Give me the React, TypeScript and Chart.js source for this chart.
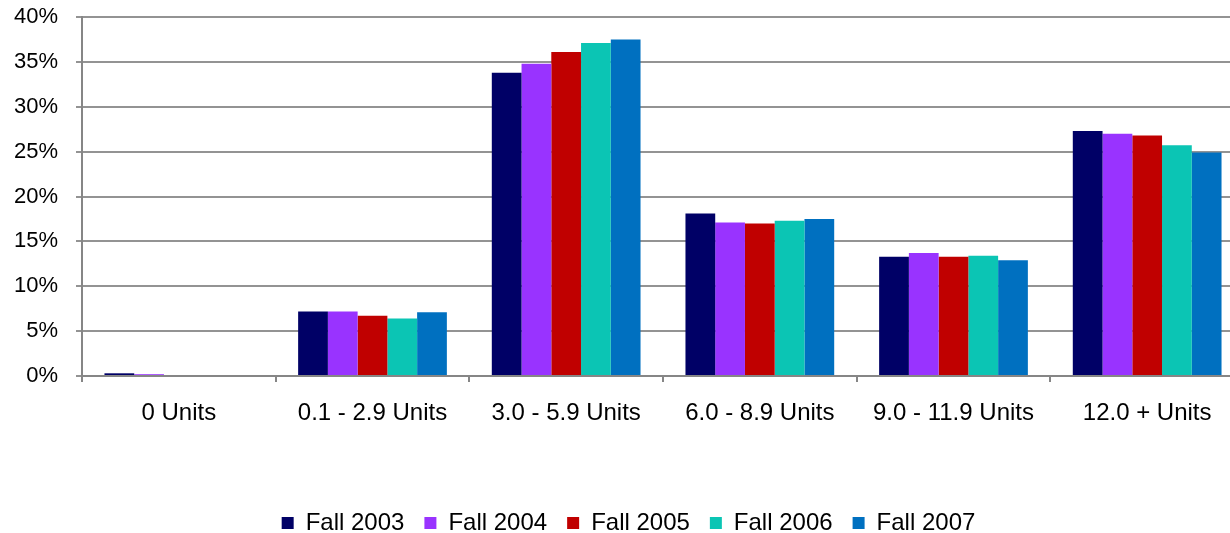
import React, { useEffect, useRef } from "react";
import { Chart, registerables } from "chart.js";

Chart.register(...registerables);

const categories = [
  "0 Units",
  "0.1 - 2.9 Units",
  "3.0 - 5.9 Units",
  "6.0 - 8.9 Units",
  "9.0 - 11.9 Units",
  "12.0 + Units",
];
const seriesNames = ["Fall 2003", "Fall 2004", "Fall 2005", "Fall 2006", "Fall 2007"];
const fall2003 = [0.3, 7.2, 33.8, 18.1, 13.3, 27.3];
const fall2004 = [0.2, 7.2, 34.8, 17.1, 13.7, 27.0];
const fall2005 = [0, 6.7, 36.1, 17.0, 13.3, 26.8];
const fall2006 = [0, 6.4, 37.1, 17.3, 13.4, 25.7];
const fall2007 = [0, 7.1, 37.5, 17.5, 12.9, 24.9];
const seriesColors = ["#000066", "#9933FF", "#C00000", "#0BC5B4", "#0070C0"];
const yTicks = [0, 5, 10, 15, 20, 25, 30, 35, 40];

const FONT = "'Liberation Sans', Arial, sans-serif";
const GRID = "#939393";
const AXIS = "#868686";

export default function App() {
  const ref = useRef<HTMLCanvasElement | null>(null);

  useEffect(() => {
    document.body.style.margin = "0";
    const canvas = ref.current;
    if (!canvas) return;
    const values = [fall2003, fall2004, fall2005, fall2006, fall2007];
    const chart = new Chart(canvas, {
      type: "bar",
      data: {
        labels: categories,
        datasets: values.map((v, i) => ({
          label: seriesNames[i],
          data: v,
          backgroundColor: seriesColors[i],
          borderWidth: 0,
          categoryPercentage: 0.768,
          barPercentage: 1,
        })),
      },
      options: {
        responsive: false,
        animation: false,
        devicePixelRatio: 1,
        layout: { padding: { top: 17, right: 0, bottom: -12, left: 13 } },
        plugins: {
          tooltip: { enabled: false },
          legend: {
            position: "bottom",
            labels: {
              boxWidth: 12,
              boxHeight: 12,
              padding: 20,
              color: "#000",
              font: { family: FONT, size: 24 },
            },
          },
        },
        scales: {
          x: {
            afterFit: (s: any) => {
              s.height = 115;
              s.paddingLeft = 0;
              s.paddingRight = 0;
              s.paddingTop = 0;
              s.paddingBottom = 0;
            },
            grid: {
              offset: true,
              drawOnChartArea: false,
              tickLength: 6,
              color: AXIS,
              lineWidth: 2,
            },
            border: { color: AXIS, width: 2 },
            ticks: {
              color: "#000",
              padding: 17,
              maxRotation: 0,
              autoSkip: false,
              font: { family: FONT, size: 24 },
            },
          },
          y: {
            min: 0,
            max: 40,
            afterFit: (s: any) => {
              s.width = 69;
              s.paddingTop = 0;
              s.paddingBottom = 0;
            },
            afterBuildTicks: (s: any) => {
              s.ticks = yTicks.map((v) => ({ value: v }));
            },
            grid: {
              color: GRID,
              lineWidth: 2,
              tickLength: 6,
            },
            border: { color: AXIS, width: 2 },
            ticks: {
              color: "#000",
              padding: 18,
              font: { family: FONT, size: 22 },
              callback: (v: any) => `${v}%`,
            },
          },
        },
      },
    });
    return () => chart.destroy();
  }, []);

  return (
    <div style={{ width: 1230, height: 533, overflow: "hidden" }}>
      <canvas ref={ref} width={1244} height={533} style={{ display: "block" }} />
    </div>
  );
}
